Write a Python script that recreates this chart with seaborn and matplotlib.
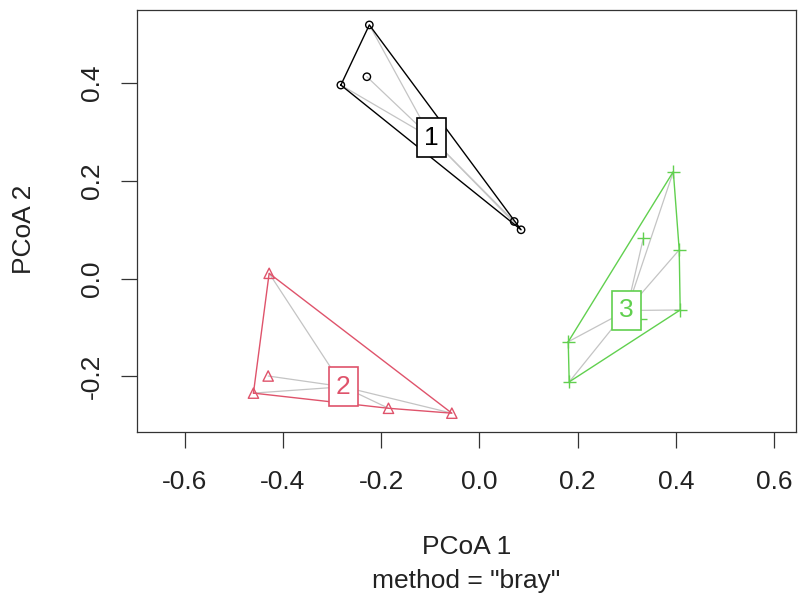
import numpy as np
import pandas as pd
import matplotlib
matplotlib.use("Agg")
import matplotlib.pyplot as plt
import seaborn as sns

# ---- data ----
groups = ["1", "2", "3"]
g1_x = [-0.224, -0.282, -0.229, 0.071, 0.085]
g1_y = [0.519, 0.396, 0.413, 0.117, 0.100]
g2_x = [-0.428, -0.430, -0.460, -0.185, -0.056]
g2_y = [0.011, -0.199, -0.234, -0.265, -0.275]
g3_x = [0.395, 0.334, 0.407, 0.409, 0.181, 0.183, 0.327]
g3_y = [0.219, 0.083, 0.059, -0.064, -0.129, -0.211, -0.083]
cent_x = [-0.098, -0.277, 0.300]
cent_y = [0.288, -0.221, -0.065]
x_ticks = [-0.6, -0.4, -0.2, 0.0, 0.2, 0.4, 0.6]
y_ticks = [-0.2, 0.0, 0.2, 0.4]

colors = {"1": "#000000", "2": "#DF536B", "3": "#61D04F"}
markers = {"1": "o", "2": "^", "3": "+"}
sizes = {"1": 28, "2": 55, "3": 90}

df = pd.DataFrame({
    "x": g1_x + g2_x + g3_x,
    "y": g1_y + g2_y + g3_y,
    "group": ["1"] * len(g1_x) + ["2"] * len(g2_x) + ["3"] * len(g3_x),
})

sns.set_theme(style="ticks")
plt.rcParams["font.family"] = ["Liberation Sans", "DejaVu Sans"]

fig = plt.figure(figsize=(7.98, 5.97), dpi=100)
ax = fig.add_axes([136.7 / 798, (597 - 431.7) / 597, 659 / 798, 421.4 / 597])


def hull(pts):
    pts = sorted(set(pts))
    def cross(o, a, b):
        return (a[0] - o[0]) * (b[1] - o[1]) - (a[1] - o[1]) * (b[0] - o[0])
    lower, upper = [], []
    for p in pts:
        while len(lower) >= 2 and cross(lower[-2], lower[-1], p) <= 0:
            lower.pop()
        lower.append(p)
    for p in reversed(pts):
        while len(upper) >= 2 and cross(upper[-2], upper[-1], p) <= 0:
            upper.pop()
        upper.append(p)
    return lower[:-1] + upper[:-1]


for i, g in enumerate(groups):
    sub = df[df.group == g]
    cx, cy = cent_x[i], cent_y[i]
    # spider segments
    for px, py in zip(sub.x, sub.y):
        ax.plot([cx, px], [cy, py], color="#C4C4C4", lw=0.9, zorder=1)
    # hull
    h = hull(list(zip(sub.x, sub.y)))
    hx = [p[0] for p in h] + [h[0][0]]
    hy = [p[1] for p in h] + [h[0][1]]
    ax.plot(hx, hy, color=colors[g], lw=1.0, zorder=2)

for g in groups:
    sub = df[df.group == g]
    sns.scatterplot(data=sub, x="x", y="y", marker=markers[g], s=sizes[g],
                    color=colors[g], legend=False, ax=ax, zorder=3)
    coll = ax.collections[-1]
    coll.set_edgecolors(colors[g])
    coll.set_facecolors("none")
    coll.set_linewidths(1.0)

for i, g in enumerate(groups):
    ax.text(cent_x[i], cent_y[i], g, ha="center", va="center",
            color=colors[g], fontsize=19, zorder=5,
            bbox=dict(boxstyle="square,pad=0.28", fc="white",
                      ec=colors[g], lw=1.2))

ax.set_xlim(-0.6977, 0.6442)
ax.set_ylim(-0.3129, 0.5489)
ax.set_xticks(x_ticks)
ax.set_xticklabels([f"{t:.1f}" for t in x_ticks])
ax.set_yticks(y_ticks)
ax.set_yticklabels([f"{t:.1f}" for t in y_ticks])
ax.tick_params(axis="both", length=11.3, width=0.9, color="#333333",
               labelsize=19, labelcolor="#222222")
ax.tick_params(axis="x", pad=16)
ax.tick_params(axis="y", pad=12, labelrotation=90)
for lab in ax.get_yticklabels():
    lab.set_va("center")
for sp in ax.spines.values():
    sp.set_visible(True)
    sp.set_linewidth(0.9)
    sp.set_color("#333333")

ax.set_xlabel("PCoA 1", fontsize=19, color="#222222")
ax.xaxis.label.set_verticalalignment("center")
ax.xaxis.set_label_coords(0.5, -(547 - 431.7) / 421.4)
ax.set_ylabel("PCoA 2", fontsize=19, color="#222222")
ax.yaxis.label.set_verticalalignment("center")
ax.yaxis.set_label_coords((24 - 136.7) / 659, (431.7 - 229) / 421.4)
ax.text(0.5, -(581 - 431.7) / 421.4, 'method = "bray"', transform=ax.transAxes,
        ha="center", va="center", fontsize=19, color="#222222")

fig.savefig("out.png", dpi=100)
